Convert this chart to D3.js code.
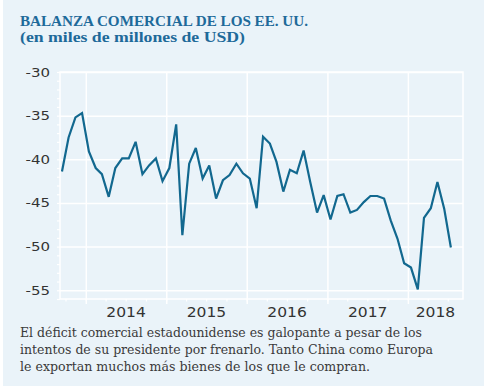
<!DOCTYPE html>
<html>
<head>
<meta charset="utf-8">
<script src="https://cdn.jsdelivr.net/npm/d3@7"></script>
<style>
  body { margin: 0; background: #fff; }
  svg { display: block; }
</style>
</head>
<body>
<svg id="chart"></svg>
<script>
// --- data ---
const titleLines = ["BALANZA COMERCIAL DE LOS EE. UU.", "(en miles de millones de USD)"];
const captionLines = [
    "El déficit comercial estadounidense es galopante a pesar de los",
    "intentos de su presidente por frenarlo. Tanto China como Europa",
    "le exportan muchos más bienes de los que le compran."
];
const firstMonth = "2013-09";
// monthly balance, Sep 2013 .. Jul 2018
const balance = [
    -41.4, -37.5, -35.2, -34.7,
    -39.1, -41.0, -41.7, -44.3, -41.0, -39.9, -39.9, -38.0, -41.7, -40.7, -39.9, -42.5,
    -41.0, -36.0, -48.7, -40.5, -38.7, -42.2, -40.7, -44.5, -42.4, -41.8, -40.5, -41.6,
    -42.2, -45.6, -37.4, -38.2, -40.3, -43.7, -41.2, -41.6, -39.0, -42.6, -46.1, -44.1,
    -46.9, -44.2, -44.0, -46.1, -45.8, -44.9, -44.2, -44.2, -44.5, -47.0, -49.1, -51.9,
    -52.4, -54.9, -46.7, -45.6, -42.6, -45.7, -50.1
];
const yTicks = [-30, -35, -40, -45, -50, -55];
const yearLabels = [2014, 2015, 2016, 2017, 2018];

// --- layout ---
const width = 487, height = 388;
const plot = { left: 60, right: 463, top: 72, bottom: 299 };
const bg = "#eaf3f9", lineColor = "#12688f", titleColor = "#1e6a9a", textColor = "#333";

const svg = d3.select("#chart").attr("width", width).attr("height", height);

svg.append("rect")
    .attr("x", 3).attr("y", 0)
    .attr("width", width - 6).attr("height", height - 2)
    .attr("fill", bg);

// stretch/compress a text to a given width
function fitWidth(sel, target) {
    sel.each(function() {
        const w = this.getComputedTextLength();
        if (Math.abs(w - target) > 1) {
            d3.select(this).attr("textLength", target).attr("lengthAdjust", "spacingAndGlyphs");
        }
    });
}
function stretch(sel, k) {
    sel.each(function() {
        const w = this.getComputedTextLength();
        d3.select(this).attr("textLength", w * k).attr("lengthAdjust", "spacingAndGlyphs");
    });
}

// title
const titleWidths = [288, 225];
svg.selectAll(".title")
    .data(titleLines)
    .join("text")
    .attr("class", "title")
    .attr("x", 20)
    .attr("y", (d, i) => 26.3 + i * 16)
    .attr("fill", titleColor)
    .style("font-family", "'Liberation Serif', serif")
    .style("font-weight", "bold")
    .style("font-size", "15.5px")
    .text(d => d)
    .each(function(d, i) { fitWidth(d3.select(this), titleWidths[i]); });

// scales
const parseMonth = d3.timeParse("%Y-%m");
const start = parseMonth(firstMonth);
const dates = balance.map((v, i) => d3.timeDay.offset(d3.timeMonth.offset(start, i), 14));

const x = d3.scaleTime()
    .domain([new Date(2013, 8, 6), new Date(2018, 8, 8)])
    .range([plot.left, plot.right]);
const y = d3.scaleLinear()
    .domain([-56, -30])
    .range([plot.bottom, plot.top]);

const g = svg.append("g");

// horizontal gridlines + y labels
const yAxis = g.append("g")
    .attr("transform", `translate(${plot.left},0)`)
    .call(d3.axisLeft(y).tickValues(yTicks).tickSize(-(plot.right - plot.left)).tickPadding(10).tickFormat(d3.format("d")));
yAxis.select(".domain").remove();
yAxis.selectAll(".tick line").attr("stroke", "#fff").attr("stroke-width", 1.5);
yAxis.selectAll(".tick text")
    .attr("fill", textColor)
    .style("font-family", "'DejaVu Sans', sans-serif")
    .style("font-size", "12.5px")
    .text(d => "-" + Math.abs(d))
    .call(stretch, 1.2);

// y minor ticks
const yMinor = g.append("g")
    .attr("transform", `translate(${plot.left},0)`)
    .call(d3.axisLeft(y).tickValues(d3.range(-56, -29)).tickSize(3).tickFormat(""));
yMinor.select(".domain").remove();
yMinor.selectAll(".tick line").attr("stroke", "#fff").attr("stroke-width", 1.2);

// vertical gridlines at year starts
const yearStarts = x.ticks(d3.timeYear.every(1));
const xGrid = g.append("g")
    .attr("transform", `translate(0,${plot.bottom})`)
    .call(d3.axisBottom(x).tickValues(yearStarts).tickSize(-(plot.bottom - plot.top)).tickFormat(""));
xGrid.select(".domain").remove();
xGrid.selectAll(".tick line").attr("stroke", "#fff").attr("stroke-width", 1.5);

// year ticks below the plot
const xMajor = g.append("g")
    .attr("transform", `translate(0,${plot.bottom})`)
    .call(d3.axisBottom(x).tickValues(yearStarts).tickSize(5).tickFormat(""));
xMajor.select(".domain").remove();
xMajor.selectAll(".tick line").attr("stroke", "#fff").attr("stroke-width", 1.5);

// quarterly minor ticks
const quarters = d3.timeMonth.every(3).range(x.domain()[0], x.domain()[1]);
const xMinor = g.append("g")
    .attr("transform", `translate(0,${plot.bottom})`)
    .call(d3.axisBottom(x).tickValues(quarters).tickSize(2.5).tickFormat(""));
xMinor.select(".domain").remove();
xMinor.selectAll(".tick line").attr("stroke", "#fff").attr("stroke-width", 1.2);

// plot frame
g.append("rect")
    .attr("x", plot.left).attr("y", plot.top)
    .attr("width", plot.right - plot.left).attr("height", plot.bottom - plot.top)
    .attr("fill", "none").attr("stroke", "#fff").attr("stroke-width", 1.5);

// year labels centred in the visible part of each year
g.selectAll(".year")
    .data(yearLabels)
    .join("text")
    .attr("class", "year")
    .attr("x", d => {
        const a = x(new Date(d, 0, 1));
        const b = Math.min(x(new Date(d + 1, 0, 1)), plot.right);
        return (a + b) / 2;
    })
    .attr("y", 316.5)
    .attr("text-anchor", "middle")
    .attr("fill", textColor)
    .style("font-family", "'DejaVu Sans', sans-serif")
    .style("font-size", "13.5px")
    .text(d => d)
    .call(stretch, 1.15);

// the line
const line = d3.line()
    .x((d, i) => x(dates[i]))
    .y(d => y(d));

g.append("path")
    .datum(balance)
    .attr("d", line)
    .attr("fill", "none")
    .attr("stroke", lineColor)
    .attr("stroke-width", 2.2)
    .attr("stroke-linejoin", "miter")
    .attr("stroke-miterlimit", 3);

// caption
const captionWidths = [402, 413, 350];
svg.selectAll(".caption")
    .data(captionLines)
    .join("text")
    .attr("class", "caption")
    .attr("x", 20)
    .attr("y", (d, i) => 337.3 + i * 16.8)
    .attr("fill", "#3a3a3a")
    .style("font-family", "'DejaVu Serif', serif")
    .style("font-size", "13px")
    .text(d => d)
    .each(function(d, i) { fitWidth(d3.select(this), captionWidths[i]); });
</script>
</body>
</html>
